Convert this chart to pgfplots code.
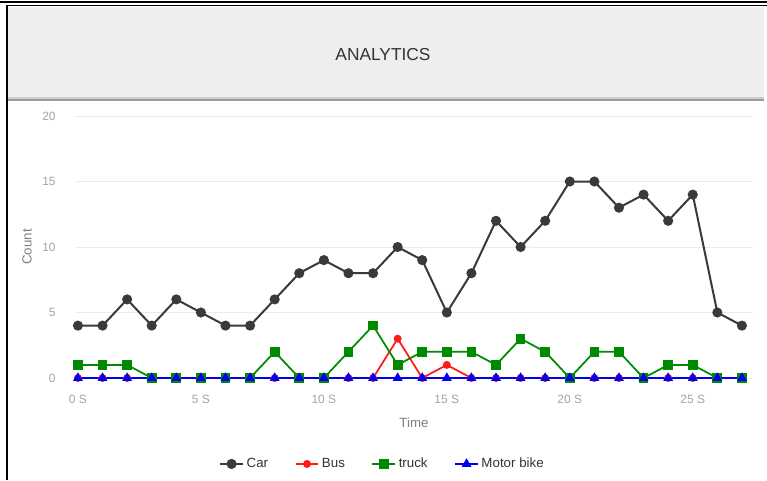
\documentclass[border=0pt]{standalone}
\usepackage{fontspec}
\setmainfont{Liberation Sans}
\usepackage{pgfplots}
\pgfplotsset{compat=1.18}
\definecolor{hdr}{HTML}{EEEEEE}
\definecolor{hdrline}{HTML}{9A9A9A}
\definecolor{carc}{HTML}{3A3A3A}
\definecolor{busc}{HTML}{FF1A1A}
\definecolor{truckc}{HTML}{008A00}
\definecolor{bikec}{HTML}{0000F0}
\definecolor{tickc}{HTML}{A4A4A4}
\definecolor{gridc}{HTML}{EBEBEB}

\begin{document}
\begin{tikzpicture}
% page is 767 x 480 px, 1 px = 0.75pt
\fill[white] (0pt,0pt) rectangle (575.25pt,360pt);
\useasboundingbox (0pt,0pt) rectangle (575.25pt,360pt);
% header panel
\fill[hdr] (6pt,285pt) rectangle (573pt,354.75pt);
\fill[hdrline!50] (6pt,285.75pt) rectangle (573pt,287.25pt);
\fill[hdrline] (6pt,284.25pt) rectangle (573pt,285.75pt);
\node[text=black!80, font=\fontsize{13}{15}\selectfont] at (287.25pt,318.75pt) {ANALYTICS};
% frame
\draw[black, line width=1.6pt] (0pt,358.6pt) -- (575.25pt,358.6pt);
\draw[black, line width=1.1pt] (4.5pt,355.9pt) -- (575.25pt,355.9pt);
\draw[black, line width=1.5pt] (5.25pt,355.9pt) -- (5.25pt,0pt);

\begin{axis}[
    at={(56.25pt,76.5pt)}, anchor=south west,
    scale only axis,
    width=508.5pt, height=196.5pt,
    xmin=-0.12, xmax=27.45,
    ymin=0, ymax=20,
    xtick={0,5,10,15,20,25},
    xticklabels={0 S,5 S,10 S,15 S,20 S,25 S},
    ytick={0,5,10,15,20},
    axis line style={draw=none},
    major tick style={draw=none},
    ymajorgrids=true,
    grid style={gridc, line width=0.75pt},
    /pgf/number format/assume math mode=true,
    tick label style={font=\fontsize{9}{10}\selectfont, text=tickc},
    yticklabel style={xshift=-11pt},
    xticklabel style={yshift=-9pt},
    xlabel={Time}, ylabel={Count},
    label style={font=\fontsize{10}{12}\selectfont, text=black!50},
    xlabel style={at={(axis description cs:0.5,-0.172)}, anchor=center},
    ylabel style={at={(axis description cs:-0.0708,0.5)}, rotate=0, anchor=center},
    legend style={at={(axis description cs:0.454,-0.328)}, anchor=center,
        draw=none, fill=none, legend columns=-1,
        font=\fontsize{10}{12}\selectfont, text=black!80,
        /tikz/every even column/.append style={column sep=18pt}},
]
\addplot[carc, line width=1.5pt, mark=*, mark size=3pt] coordinates {
 (0,4) (1,4) (2,6) (3,4) (4,6) (5,5) (6,4) (7,4) (8,6) (9,8)
 (10,9) (11,8) (12,8) (13,10) (14,9) (15,5) (16,8) (17,12) (18,10) (19,12)
 (20,15) (21,15) (22,13) (23,14) (24,12) (25,14) (26,5) (27,4)};
\addplot[busc, line width=1.3pt, mark=*, mark size=2.3pt] coordinates {
 (0,0) (1,0) (2,0) (3,0) (4,0) (5,0) (6,0) (7,0) (8,0) (9,0)
 (10,0) (11,0) (12,0) (13,3) (14,0) (15,1) (16,0) (17,0) (18,0) (19,0)
 (20,0) (21,0) (22,0) (23,0) (24,0) (25,0) (26,0) (27,0)};
\addplot[truckc, line width=1.3pt, mark=square*, mark size=3pt] coordinates {
 (0,1) (1,1) (2,1) (3,0) (4,0) (5,0) (6,0) (7,0) (8,2) (9,0)
 (10,0) (11,2) (12,4) (13,1) (14,2) (15,2) (16,2) (17,1) (18,3) (19,2)
 (20,0) (21,2) (22,2) (23,0) (24,1) (25,1) (26,0) (27,0)};
\addplot[bikec, line width=1.3pt, mark=triangle*, mark size=3pt] coordinates {
 (0,0) (1,0) (2,0) (3,0) (4,0) (5,0) (6,0) (7,0) (8,0) (9,0)
 (10,0) (11,0) (12,0) (13,0) (14,0) (15,0) (16,0) (17,0) (18,0) (19,0)
 (20,0) (21,0) (22,0) (23,0) (24,0) (25,0) (26,0) (27,0)};
\legend{Car, Bus, truck, Motor bike}
\end{axis}
\end{tikzpicture}
\end{document}
